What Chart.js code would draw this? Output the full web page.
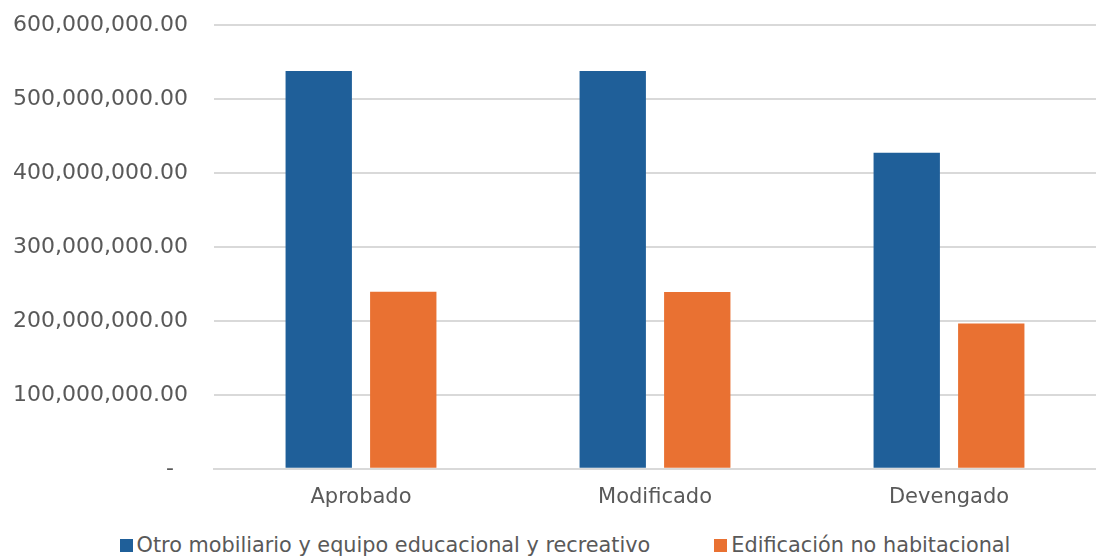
<!DOCTYPE html>
<html>
<head>
<meta charset="utf-8">
<script src="https://cdn.jsdelivr.net/npm/chart.js@4.4.0/dist/chart.umd.min.js"></script>
<style>
    html, body { margin: 0; padding: 0; background: #ffffff; }
    #contenedor { width: 1096px; height: 532px; position: relative; }
    #leyenda { width: 1062px; height: 26px; padding-left: 34px; display: flex; justify-content: center; align-items: center;
               font-family: 'DejaVu Sans', sans-serif; font-size: 20.8px; color: #595959; }
    .item { display: flex; align-items: center; margin: 0 32px; }
    .caja { width: 13px; height: 13px; margin-right: 4px; }
</style>
</head>
<body>
<div id="contenedor"><canvas id="graficoPresupuesto"></canvas></div>
<div id="leyenda"></div>
<script>
const categorias = ['Aprobado', 'Modificado', 'Devengado'];
const serieMobiliario = [537700000, 537700000, 427300000];
const serieEdificacion = [239300000, 238900000, 196600000];
const nombresSeries = ['Otro mobiliario y equipo educacional y recreativo', 'Edificación no habitacional'];
const coloresSeries = ['#1F5F99', '#E97132'];

function formatoTick(valor) {
    // formato contable: el cero se muestra como guion
    if (valor === 0) return '-  ';
    return valor.toLocaleString('en-US', { minimumFractionDigits: 2, maximumFractionDigits: 2 });
}

window.onload = crearGrafico;

function crearGrafico() {
    const ctx = document.getElementById('graficoPresupuesto').getContext('2d');
    Chart.defaults.font.family = "'DejaVu Sans', sans-serif";
    Chart.defaults.color = '#595959';

    const grafico = new Chart(ctx, {
        type: 'bar',
        data: {
            labels: categorias,
            datasets: [
                {
                    label: nombresSeries[0],
                    data: serieMobiliario,
                    backgroundColor: coloresSeries[0],
                    categoryPercentage: 0.575,
                    barPercentage: 0.785
                },
                {
                    label: nombresSeries[1],
                    data: serieEdificacion,
                    backgroundColor: coloresSeries[1],
                    categoryPercentage: 0.575,
                    barPercentage: 0.785
                }
            ]
        },
        options: {
            responsive: true,
            maintainAspectRatio: false,
            animation: false,
            layout: { padding: { top: 0, right: 0, left: 0, bottom: 14 } },
            plugins: {
                legend: { display: false },
                tooltip: { enabled: false }
            },
            scales: {
                x: {
                    grid: { display: false },
                    border: { color: '#d9d9d9', width: 2 },
                    ticks: { font: { size: 21 }, padding: 8, color: '#595959' }
                },
                y: {
                    min: 0,
                    max: 600000000,
                    border: { display: false },
                    grid: { color: '#d9d9d9', lineWidth: 2, drawTicks: false },
                    ticks: {
                        stepSize: 100000000,
                        padding: 26,
                        font: { size: 22 },
                        color: '#595959',
                        callback: formatoTick
                    },
                    afterFit: function (escala) {
                        escala.width = 214;
                        escala.paddingTop = 25;
                        escala.paddingBottom = 13;
                    }
                }
            }
        }
    });

    // leyenda en HTML a partir de los datasets
    const leyenda = document.getElementById('leyenda');
    grafico.data.datasets.forEach(ds => {
        const item = document.createElement('div');
        item.className = 'item';
        const caja = document.createElement('span');
        caja.className = 'caja';
        caja.style.background = ds.backgroundColor;
        const texto = document.createElement('span');
        texto.textContent = ds.label;
        item.appendChild(caja);
        item.appendChild(texto);
        leyenda.appendChild(item);
    });
}
</script>
</body>
</html>
